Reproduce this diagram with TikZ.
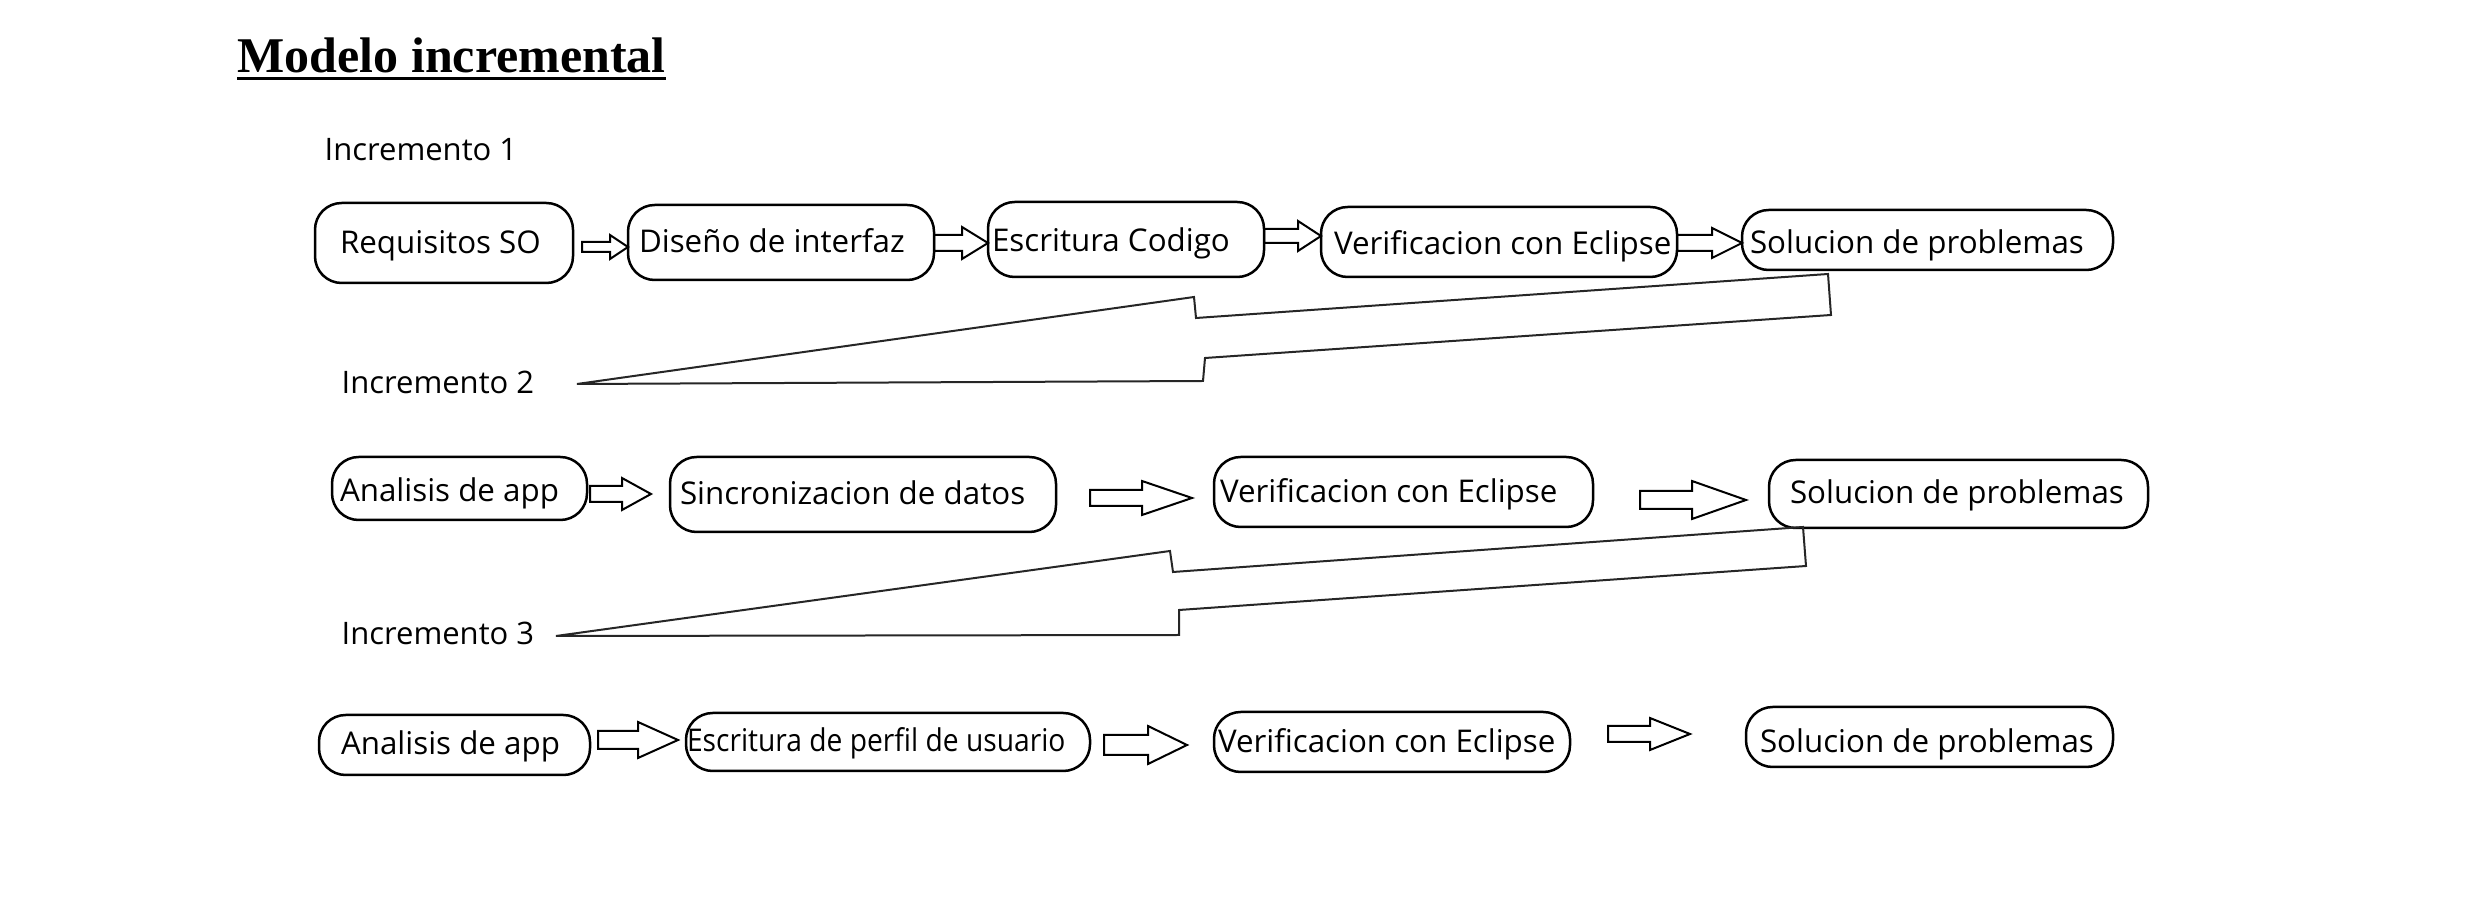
\documentclass[tikz,border=0pt]{standalone}
\usepackage{fontspec}
\setmainfont{Open Sans}
\newfontfamily\titlefont{Liberation Serif}
\usetikzlibrary{calc}
\newcommand\tbx[8]{% name, x1, y1, x2, y2, text left, text drop (px), text
 \pgfmathsetmacro\bw{(#4-#2)*0.3}%
 \pgfmathsetmacro\bh{(#5-#3)*0.3}%
 \pgfmathsetmacro\bl{(#6-#2)*0.3}%
 \pgfmathsetmacro\bd{#7*0.3}%
 \node[box, minimum width=\bw pt, minimum height=\bh pt] (#1) at ({(#2+#4)/2},{(#3+#5)/2}) {\makebox[\bw pt][l]{\hspace*{\bl pt}\raisebox{-\bd pt}{#8}}};}
\newcommand\blkarrow[7]{% name, x1, x2, xh, yc, shaft half, head half
 \draw[blk] (#2,{#5-#6}) -- (#4,{#5-#6}) -- (#4,{#5-#7}) -- (#3,#5) -- (#4,{#5+#7}) -- (#4,{#5+#6}) -- (#2,{#5+#6}) -- cycle;
 \coordinate (#1) at (#3,#5);}
\begin{document}
\begin{tikzpicture}[x=0.3pt,y=-0.3pt,
 box/.style={draw, line width=0.75pt, rounded corners=8pt, inner sep=0pt,
   font=\fontsize{9.4pt}{11pt}\selectfont, text height=6.7pt, text depth=2.4pt},
 blk/.style={line width=0.6pt, line join=miter},
 big/.style={line width=0.6pt, line join=miter, draw=black!85},
 lbl/.style={inner sep=0pt, font=\fontsize{9.3pt}{11pt}\selectfont, anchor=base west}]
\useasboundingbox (0,0) rectangle (2480,910);

% title
\node[anchor=base west, inner sep=0pt, font=\titlefont\bfseries\fontsize{15pt}{17pt}\selectfont] (title) at (237,73) {Modelo incremental};
\draw[line width=0.9pt] ($(title.base west)+(0,6)$) -- ($(title.base east)+(0,6)$);

% labels
\node[lbl] (inc1) at (324,161) {Incremento 1};
\node[lbl] (inc2) at (341,394) {Incremento 2};
\node[lbl] (inc3) at (341,645) {Incremento 3};

% row 1
\tbx{a1}{315}{203}{573}{283}{340}{3}{Requisitos SO}
\tbx{a2}{628}{205}{934}{280}{639}{3}{Diseño de interfaz}
\tbx{a3}{988}{202}{1264}{277}{992}{5}{Escritura Codigo}
\tbx{a4}{1321}{207}{1677}{277}{1334}{5}{Verificacion con Eclipse}
\tbx{a5}{1742}{210}{2113}{270}{1750}{6}{Solucion de problemas}

\blkarrow{r1a}{582}{628}{610}{247}{5}{12}
\blkarrow{r1b}{934}{988}{962}{243}{8}{16}
\blkarrow{r1c}{1264}{1321}{1298}{236}{7}{15}
\blkarrow{r1d}{1677}{1742}{1712}{243}{8}{15}

% row 2
\tbx{b1}{332}{457}{587}{520}{340}{6}{Analisis de app}
\tbx{b2}{670}{457}{1056}{532}{680}{3}{Sincronizacion de datos}
\tbx{b3}{1214}{457}{1593}{527}{1220}{3}{Verificacion con Eclipse}
\tbx{b4}{1769}{460}{2148}{528}{1790}{2}{Solucion de problemas}

\blkarrow{r2a}{590}{651}{622}{494}{8}{16}
\blkarrow{r2b}{1090}{1192}{1142}{498}{8}{17}
\blkarrow{r2c}{1640}{1746}{1692}{500}{9}{19}

% row 3
\tbx{c1}{319}{715}{590}{775}{341}{2}{Analisis de app}
\tbx{c2}{686}{713}{1090}{771}{687}{2}{\scalebox{0.9}[1]{Escritura de perfil de usuario}}
\tbx{c3}{1214}{712}{1570}{772}{1218}{3}{Verificacion con Eclipse}
\tbx{c4}{1746}{707}{2113}{767}{1760}{8}{Solucion de problemas}

\blkarrow{r3a}{598}{678}{638}{740}{9}{18}
\blkarrow{r3b}{1104}{1187}{1148}{745}{10}{19}
\blkarrow{r3c}{1608}{1690}{1650}{734}{8}{16}

% big return arrows
\draw[big] (1828,274) -- (1831,315) -- (1205,358) -- (1203,381) -- (577,384)
  -- (1194,297) -- (1196,318) -- cycle;
\draw[big] (1803,527) -- (1806,566) -- (1179,610) -- (1179,635) -- (556,636)
  -- (1170,551) -- (1173,572) -- cycle;
\end{tikzpicture}
\end{document}
